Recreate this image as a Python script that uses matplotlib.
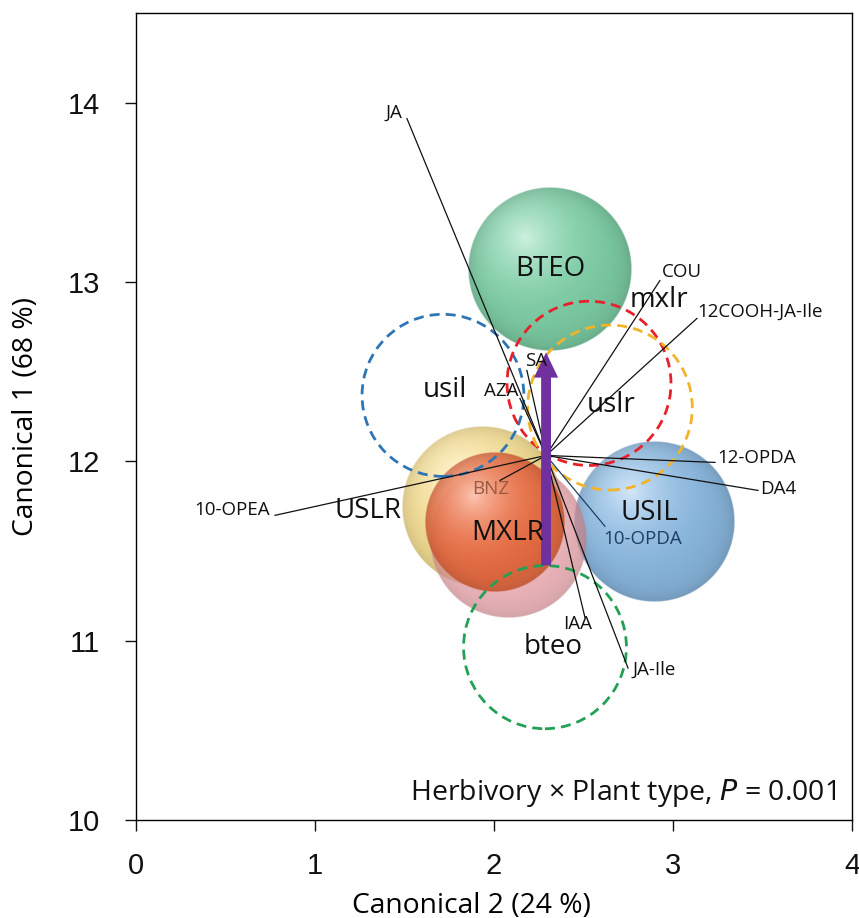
import numpy as np
import matplotlib.pyplot as plt
from matplotlib.patches import Circle
from matplotlib.colors import to_rgb

plt.rcParams['font.family'] = ['Open Sans', 'DejaVu Sans']

# herbivory groups (solid spheres): centroid and confidence radius
sphere_names = ['USIL', 'USLR', 'MXLR', 'BTEO']
sphere_x = [2.894, 1.933, 2.006, 2.313]
sphere_y = [11.665, 11.744, 11.660, 13.075]
sphere_r = [0.447, 0.447, 0.390, 0.457]
# lower, translucent part of the MXLR sphere
mxlr_halo = (2.078, 11.56, 0.436)

# control groups (dashed circles)
ctrl_names = ['usil', 'mxlr', 'uslr', 'bteo']
ctrl_x = [1.715, 2.531, 2.648, 2.285]
ctrl_y = [12.368, 12.435, 12.300, 10.964]
ctrl_r = [0.452, 0.458, 0.460, 0.455]

# hormone vectors, all from one origin
vec_origin = (2.291, 12.033)
vec_names = ['JA', 'SA', 'AZA', 'COU', '12COOH-JA-Ile', '12-OPDA', 'DA4',
             '10-OPDA', 'JA-Ile', 'IAA', '10-OPEA', 'BNZ']
vec_x = [1.514, 2.184, 2.145, 2.927, 3.134, 3.235, 3.475, 2.620, 2.749, 2.508, 0.777, 2.034]
vec_y = [13.911, 12.507, 12.351, 13.008, 12.797, 11.994, 11.838, 11.638, 10.847, 11.131, 11.699, 11.894]

# treatment effect arrow
arrow_x = 2.291
arrow_y0, arrow_y1 = 11.42, 12.607


def draw_sphere(ax, cx, cy, r, base, alpha, z, hl=0.6):
    n = 400
    g = np.linspace(-1, 1, n)
    X, Y = np.meshgrid(g, g)
    R = np.hypot(X, Y)
    d = np.hypot(X + 0.3, Y - 0.38)
    light = np.clip(1 - d / 1.3, 0, 1)
    c = np.array(to_rgb(base))
    shade = 0.92 + 0.1 * light - 0.12 * R ** 8
    rgb = c * shade[..., None] + (1 - c) * (hl * light ** 2.5)[..., None]
    img = np.zeros((n, n, 4))
    img[..., :3] = np.clip(rgb, 0, 1)
    img[..., 3] = alpha * np.clip((1 - R) * n / 3, 0, 1)
    ax.imshow(img, extent=[cx - r, cx + r, cy - r, cy + r], origin='lower',
              zorder=z, interpolation='bilinear')


fig = plt.figure(figsize=(8.59, 9.18), dpi=100)
ax = fig.add_axes([0.1583, 0.10675, 0.8335, 0.87905])

# spheres
sphere_cols = {'USIL': '#86b8e3', 'USLR': '#f8dc80', 'MXLR': '#ee6a3c', 'BTEO': '#78d0a4'}
sphere_alpha = {'USIL': 0.95, 'USLR': 0.85, 'MXLR': 0.92, 'BTEO': 0.95}
sphere_z = {'USIL': 1, 'USLR': 2, 'MXLR': 4, 'BTEO': 2}
for name, x, y, r in zip(sphere_names, sphere_x, sphere_y, sphere_r):
    draw_sphere(ax, x, y, r, sphere_cols[name], sphere_alpha[name], sphere_z[name])
draw_sphere(ax, mxlr_halo[0], mxlr_halo[1], mxlr_halo[2], '#ee9aa2', 0.7, 3, hl=0.3)

# dashed control circles
ctrl_cols = {'usil': '#2e75b6', 'mxlr': '#e8202a', 'uslr': '#f2b42a', 'bteo': '#22a055'}
for name, x, y, r in zip(ctrl_names, ctrl_x, ctrl_y, ctrl_r):
    ax.add_patch(Circle((x, y), r, fill=False, ec=ctrl_cols[name], lw=2,
                        ls=(0, (3.6, 2.2)), zorder=6))

# vectors
vec_off = {'JA': (-3, 4, 'right'), 'SA': (-1.5, 6.5, 'left'), 'AZA': (-1, 5, 'right'),
           'COU': (1.5, 6, 'left'), '12COOH-JA-Ile': (0, 5, 'left'),
           '12-OPDA': (1.5, 3, 'left'), 'DA4': (1.5, 1, 'left'),
           '10-OPDA': (-1, -9, 'left'), 'JA-Ile': (3, -1, 'left'),
           'IAA': (-16, -5, 'left'), '10-OPEA': (-3.5, 4, 'right'), 'BNZ': (-7, -6, 'center')}
vec_tcol = {'10-OPDA': '#1d3f63', 'BNZ': '#9a5a42'}
vec_lcol = {'10-OPDA': '#1d3f63'}
for name, x, y in zip(vec_names, vec_x, vec_y):
    ax.plot([vec_origin[0], x], [vec_origin[1], y], color=vec_lcol.get(name, '#111111'),
            lw=0.9, zorder=7)
    dx, dy, ha = vec_off[name]
    ax.annotate(name, (x, y), xytext=(dx, dy), textcoords='offset points',
                ha=ha, va='center', fontsize=13.5, color=vec_tcol.get(name, '#111111'),
                zorder=9)

# effect arrow
ax.arrow(arrow_x, arrow_y0, 0, arrow_y1 - arrow_y0, width=0.055, head_width=0.135,
         head_length=0.14, length_includes_head=True, color='#7030a0', lw=0, zorder=8)

# group labels (offsets in points from the centroid)
sphere_lab = {'USIL': (-3, 6), 'USLR': (-82, -3), 'MXLR': (9, -8), 'BTEO': (0, 0)}
for name, x, y in zip(sphere_names, sphere_x, sphere_y):
    ax.annotate(name, (x, y), xytext=sphere_lab[name], textcoords='offset points',
                ha='center', va='center', fontsize=20, color='#111111', zorder=10)
ctrl_lab = {'usil': (1.5, 4), 'mxlr': (50, 60), 'uslr': (0.5, 2), 'bteo': (6, 0)}
for name, x, y in zip(ctrl_names, ctrl_x, ctrl_y):
    ax.annotate(name, (x, y), xytext=ctrl_lab[name], textcoords='offset points',
                ha='center', va='center', fontsize=20, color='#111111', zorder=10)

ax.text(0.978, 0.034, 'Herbivory \u00d7 Plant type, $\\it{P}$ = 0.001', transform=ax.transAxes,
        ha='right', va='center', fontsize=20.5, color='#111111', zorder=10)

ax.set_xlim(0, 4)
ax.set_ylim(10, 14.5)
ax.set_aspect('auto')
ax.set_xticks([0, 1, 2, 3, 4])
ax.set_yticks([10, 11, 12, 13, 14])
for lab in ax.get_xticklabels() + ax.get_yticklabels():
    lab.set_fontfamily('Liberation Sans')
ax.tick_params(axis='both', direction='out', length=8, width=1, labelsize=21,
               colors='#111111')
ax.tick_params(axis='y', pad=18)
ax.tick_params(axis='x', pad=15)
for sp in ax.spines.values():
    sp.set_linewidth(1)

ax.set_xlabel('Canonical 2 (24 %)', fontsize=20.3)
ax.set_ylabel('Canonical 1 (68 %)', fontsize=20.3)
ax.xaxis.set_label_coords(0.469, -0.106)
ax.xaxis.label.set_va('center')
ax.yaxis.set_label_coords(-0.153, 0.5)
ax.yaxis.label.set_va('center')

fig.savefig('out.png', dpi=100)
